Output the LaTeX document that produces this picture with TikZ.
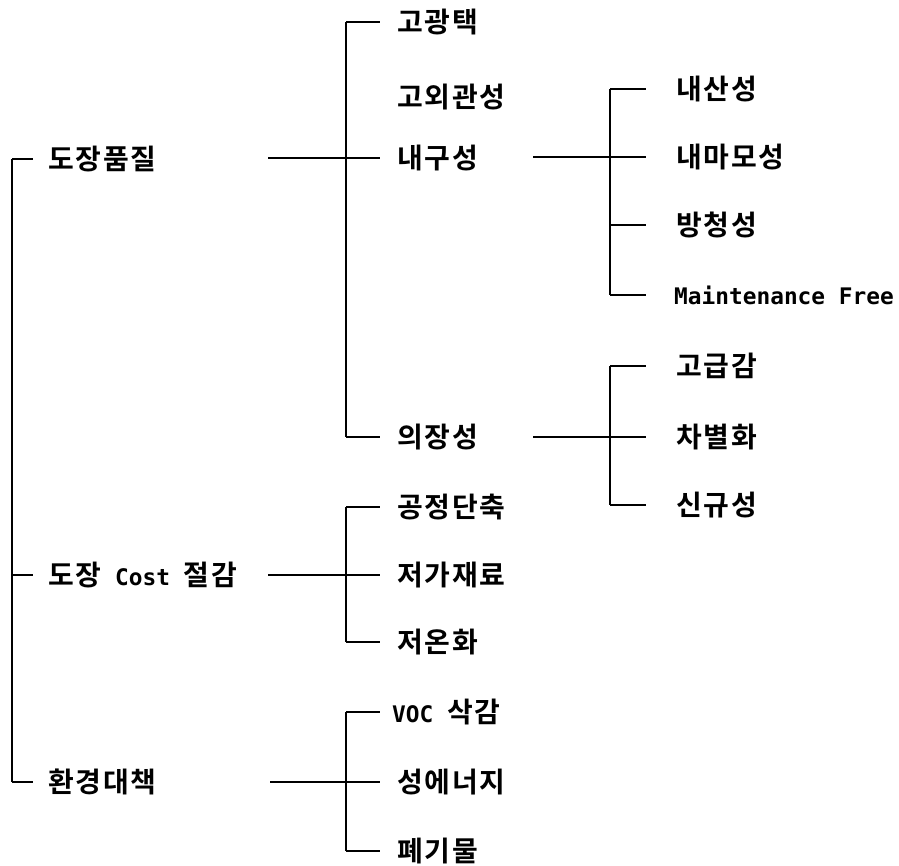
\documentclass[tikz,border=0pt]{standalone}
\usepackage{fontspec}
\setmainfont{DejaVu Sans Mono}[BoldFont={DejaVu Sans Mono Bold}]
\newfontfamily\kr{Noto Sans CJK KR}[BoldFont={* Bold},LetterSpace=6]
\newcommand{\krt}[1]{{\kr\fontsize{28}{30}\selectfont\bfseries #1}}
\newcommand{\lat}[1]{{\fontsize{22.8}{30}\selectfont\bfseries #1}}
\begin{document}
\begin{tikzpicture}[x=1pt,y=-1pt,
  lbl/.style={anchor=west,inner sep=0pt},
  vline/.style={line width=2.2pt},
  hline/.style={line width=1.4pt}]
\useasboundingbox (0,0) rectangle (899,865);
% level 1
\node[lbl] (a) at (48,159) {\krt{도장품질}};
\node[lbl] (b) at (48,575) {\krt{도장}\lat{ Cost }\krt{절감}};
\node[lbl] (c) at (48,782) {\krt{환경대책}};
% level 2
\node[lbl] (a1) at (397,22) {\krt{고광택}};
\node[lbl] (a2) at (397,97) {\krt{고외관성}};
\node[lbl] (a3) at (397,158) {\krt{내구성}};
\node[lbl] (a4) at (397,437) {\krt{의장성}};
\node[lbl] (b1) at (397,507) {\krt{공정단축}};
\node[lbl] (b2) at (397,575) {\krt{저가재료}};
\node[lbl] (b3) at (397,642) {\krt{저온화}};
\node[lbl] (c1) at (392,712) {\lat{VOC }\krt{삭감}};
\node[lbl] (c2) at (397,782) {\krt{성에너지}};
\node[lbl] (c3) at (397,851) {\krt{폐기물}};
% level 3
\node[lbl] (d1) at (676,89) {\krt{내산성}};
\node[lbl] (d2) at (676,157) {\krt{내마모성}};
\node[lbl] (d3) at (676,225) {\krt{방청성}};
\node[lbl] (d4) at (674,295) {\lat{Maintenance Free}};
\node[lbl] (e1) at (676,366) {\krt{고급감}};
\node[lbl] (e2) at (676,437) {\krt{차별화}};
\node[lbl] (e3) at (676,505) {\krt{신규성}};
% tick ends (free ends of connectors)
\foreach \n/\x/\y in {ta/33/159, tb/33/575, tc/33/782,
  ta1/380/22, ta3/380/158, ta4/380/437, tb1/380/507, tb2/380/575, tb3/380/642,
  tc1/380/712, tc2/380/782, tc3/380/851,
  td1/646/89, td2/646/157, td3/646/225, td4/646/295,
  te1/646/366, te2/646/437, te3/646/505}
  {\coordinate (\n) at (\x,\y);}
% root bracket
\coordinate (r0) at (12,159);
\coordinate (r1) at (12,575);
\coordinate (r2) at (12,782);
\draw[vline] (r0) -- (r2);
\draw[hline] (r0) -- (ta);
\draw[hline] (r1) -- (tb);
\draw[hline] (r2) -- (tc);
% 도장품질 group
\coordinate (sa) at (268,158);
\coordinate (va0) at (346,22);
\coordinate (va1) at (346,437);
\draw[hline] (sa) -- (ta3);
\draw[vline] (va0) -- (va1);
\draw[hline] (va0) -- (ta1);
\draw[hline] (va1) -- (ta4);
% cost group
\coordinate (sb) at (268,575);
\coordinate (vb0) at (346,507);
\coordinate (vb1) at (346,642);
\draw[hline] (sb) -- (tb2);
\draw[vline] (vb0) -- (vb1);
\draw[hline] (vb0) -- (tb1);
\draw[hline] (vb1) -- (tb3);
% env group
\coordinate (sc) at (270,782);
\coordinate (vc0) at (346,712);
\coordinate (vc1) at (346,851);
\draw[hline] (sc) -- (tc2);
\draw[vline] (vc0) -- (vc1);
\draw[hline] (vc0) -- (tc1);
\draw[hline] (vc1) -- (tc3);
% 내구성 group
\coordinate (sd) at (533,157);
\coordinate (vd0) at (610,89);
\coordinate (vd2) at (610,225);
\coordinate (vd1) at (610,295);
\draw[hline] (sd) -- (td2);
\draw[vline] (vd0) -- (vd1);
\draw[hline] (vd0) -- (td1);
\draw[hline] (vd2) -- (td3);
\draw[hline] (vd1) -- (td4);
% 의장성 group
\coordinate (se) at (533,437);
\coordinate (ve0) at (610,366);
\coordinate (ve1) at (610,505);
\draw[hline] (se) -- (te2);
\draw[vline] (ve0) -- (ve1);
\draw[hline] (ve0) -- (te1);
\draw[hline] (ve1) -- (te3);
\end{tikzpicture}
\end{document}
